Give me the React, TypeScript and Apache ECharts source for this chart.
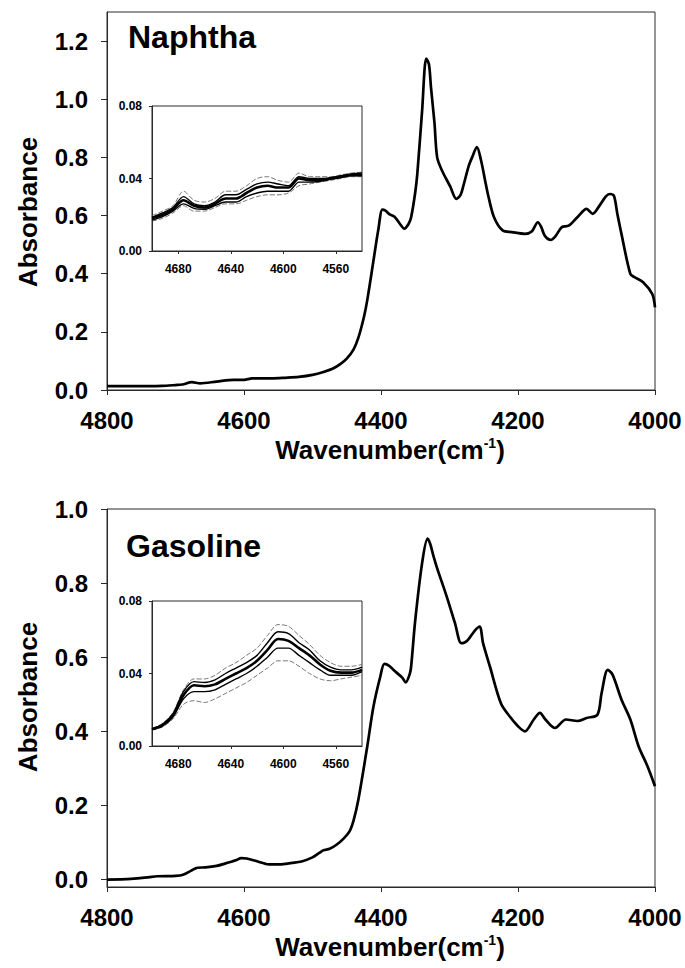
import React, { useEffect, useRef } from "react";
import * as echarts from "echarts";

// ---------- Naphtha main spectrum ----------
const naphthaWn = [4800, 4760, 4720, 4700, 4690, 4676, 4664, 4640, 4615, 4600, 4588, 4560, 4540, 4520, 4500, 4484, 4470, 4460, 4450, 4440, 4433, 4425, 4420, 4411, 4404, 4398, 4394, 4388, 4380, 4372, 4366, 4360, 4356, 4350, 4347, 4340, 4334, 4330, 4327, 4322, 4318, 4311, 4299, 4290, 4284, 4280, 4272, 4267, 4260, 4254, 4248, 4244, 4235, 4222, 4209, 4190, 4180, 4171, 4166, 4161, 4152, 4145, 4136, 4126, 4113, 4100, 4091, 4081, 4072, 4066, 4060, 4055, 4049, 4036, 4030, 4017, 4004, 4000];
const naphthaAbs = [0.013, 0.013, 0.014, 0.017, 0.019, 0.027, 0.023, 0.029, 0.035, 0.035, 0.040, 0.040, 0.042, 0.045, 0.052, 0.062, 0.074, 0.088, 0.108, 0.140, 0.180, 0.250, 0.310, 0.445, 0.550, 0.620, 0.618, 0.605, 0.595, 0.570, 0.555, 0.570, 0.594, 0.680, 0.743, 0.960, 1.140, 1.120, 1.040, 0.920, 0.800, 0.755, 0.700, 0.657, 0.670, 0.700, 0.770, 0.800, 0.835, 0.790, 0.720, 0.674, 0.594, 0.548, 0.543, 0.537, 0.545, 0.577, 0.560, 0.531, 0.516, 0.530, 0.560, 0.565, 0.595, 0.623, 0.606, 0.634, 0.665, 0.674, 0.668, 0.606, 0.537, 0.399, 0.388, 0.370, 0.330, 0.284];

// ---------- Gasoline main spectrum ----------
const gasolineWn = [4800, 4765, 4740, 4727, 4700, 4689, 4676, 4668, 4656, 4640, 4628, 4612, 4604, 4596, 4580, 4564, 4548, 4530, 4516, 4500, 4490, 4484, 4475, 4465, 4455, 4446, 4440, 4433, 4420, 4411, 4401, 4395, 4388, 4382, 4369, 4364, 4358, 4356, 4350, 4340, 4332, 4328, 4324, 4318, 4305, 4292, 4283, 4278, 4273, 4263, 4256, 4251, 4241, 4225, 4212, 4200, 4190, 4177, 4168, 4160, 4146, 4130, 4113, 4100, 4084, 4078, 4069, 4062, 4049, 4036, 4024, 4011, 4000];
const gasolineAbs = [0.000, 0.002, 0.006, 0.009, 0.010, 0.013, 0.025, 0.032, 0.033, 0.037, 0.043, 0.052, 0.058, 0.057, 0.049, 0.041, 0.041, 0.045, 0.049, 0.060, 0.072, 0.079, 0.083, 0.094, 0.110, 0.130, 0.160, 0.216, 0.360, 0.467, 0.548, 0.582, 0.577, 0.566, 0.545, 0.532, 0.555, 0.575, 0.700, 0.854, 0.920, 0.905, 0.877, 0.840, 0.769, 0.692, 0.638, 0.640, 0.647, 0.672, 0.683, 0.638, 0.575, 0.476, 0.440, 0.414, 0.400, 0.432, 0.450, 0.432, 0.409, 0.432, 0.428, 0.436, 0.445, 0.503, 0.566, 0.553, 0.486, 0.432, 0.360, 0.306, 0.252];

// ---------- Insets (4700–4540 cm-1) ----------
const insetWn = [4700, 4692, 4684, 4676, 4668, 4660, 4652, 4644, 4636, 4628, 4620, 4612, 4604, 4596, 4588, 4580, 4572, 4564, 4556, 4548, 4540];

const naphthaInsetUpper = [0.0195, 0.022, 0.025, 0.033, 0.028, 0.027, 0.029, 0.033, 0.033, 0.036, 0.040, 0.041, 0.039, 0.038, 0.043, 0.041, 0.041, 0.041, 0.042, 0.043, 0.0435];
const naphthaInsetUpperMid = [0.0185, 0.021, 0.024, 0.030, 0.026, 0.025, 0.027, 0.031, 0.031, 0.034, 0.037, 0.038, 0.037, 0.036, 0.041, 0.040, 0.040, 0.0405, 0.0415, 0.0425, 0.043];
const naphthaInsetMid = [0.018, 0.020, 0.023, 0.028, 0.025, 0.024, 0.026, 0.029, 0.029, 0.032, 0.035, 0.036, 0.035, 0.035, 0.040, 0.039, 0.039, 0.040, 0.041, 0.042, 0.042];
const naphthaInsetLowerMid = [0.017, 0.019, 0.022, 0.026, 0.0235, 0.023, 0.025, 0.027, 0.027, 0.030, 0.032, 0.033, 0.033, 0.033, 0.038, 0.038, 0.0385, 0.0395, 0.0405, 0.0415, 0.0415];
const naphthaInsetLower = [0.0165, 0.018, 0.021, 0.025, 0.022, 0.022, 0.024, 0.026, 0.026, 0.028, 0.030, 0.031, 0.031, 0.032, 0.036, 0.037, 0.038, 0.039, 0.040, 0.041, 0.041];

const gasolineInsetUpper = [0.0098, 0.0125, 0.0185, 0.031, 0.037, 0.037, 0.039, 0.043, 0.046, 0.050, 0.054, 0.061, 0.067, 0.066, 0.061, 0.056, 0.050, 0.046, 0.044, 0.044, 0.045];
const gasolineInsetUpperMid = [0.0095, 0.012, 0.0178, 0.030, 0.0355, 0.035, 0.0365, 0.040, 0.043, 0.046, 0.050, 0.057, 0.063, 0.062, 0.057, 0.053, 0.047, 0.0435, 0.042, 0.042, 0.0435];
const gasolineInsetMid = [0.0092, 0.0116, 0.017, 0.028, 0.0335, 0.033, 0.034, 0.037, 0.040, 0.043, 0.047, 0.053, 0.059, 0.058, 0.054, 0.050, 0.045, 0.0415, 0.0405, 0.0405, 0.042];
const gasolineInsetLowerMid = [0.009, 0.011, 0.016, 0.026, 0.030, 0.030, 0.031, 0.034, 0.037, 0.040, 0.044, 0.049, 0.054, 0.054, 0.050, 0.046, 0.042, 0.039, 0.039, 0.039, 0.041];
const gasolineInsetLower = [0.0088, 0.0105, 0.015, 0.023, 0.025, 0.024, 0.026, 0.029, 0.032, 0.035, 0.039, 0.043, 0.047, 0.047, 0.044, 0.040, 0.037, 0.036, 0.037, 0.038, 0.039];

// ---------- Tick labels ----------
const mainXTicks = [4800, 4600, 4400, 4200, 4000];
const naphthaYTicks = [0, 0.2, 0.4, 0.6, 0.8, 1.0, 1.2];
const gasolineYTicks = [0, 0.2, 0.4, 0.6, 0.8, 1.0];
const insetXTicks = [4680, 4640, 4600, 4560];
const insetYTicks = [0, 0.04, 0.08];

const FONT = "'Liberation Sans', Arial, Helvetica, sans-serif";
const AXIS_COLOR = "#2a2a2a";

const zip = (xs: number[], ys: number[]) => xs.map((x, i) => [x, ys[i]]);

function mainX(gridIndex: number) {
  return {
    type: "value",
    gridIndex,
    min: 4000,
    max: 4800,
    inverse: true,
    axisLine: { show: true, onZero: false, lineStyle: { color: AXIS_COLOR, width: 1 } },
    axisTick: { show: true, inside: false, length: 5, customValues: mainXTicks, lineStyle: { color: AXIS_COLOR } },
    axisLabel: {
      customValues: mainXTicks,
      margin: 18,
      color: "#000",
      fontFamily: FONT,
      fontWeight: "bold",
      fontSize: 24,
      lineHeight: 24,
      formatter: (v: number) => String(v),
    },
    splitLine: { show: false },
  };
}

function mainY(gridIndex: number, min: number, max: number, ticks: number[]) {
  return {
    type: "value",
    gridIndex,
    min,
    max,
    axisLine: { show: true, onZero: false, lineStyle: { color: AXIS_COLOR, width: 1 } },
    axisTick: { show: true, inside: false, length: 6, customValues: ticks, lineStyle: { color: AXIS_COLOR } },
    axisLabel: {
      customValues: ticks,
      margin: 19,
      color: "#000",
      fontFamily: FONT,
      fontWeight: "bold",
      fontSize: 24,
      formatter: (v: number) => v.toFixed(1),
    },
    splitLine: { show: false },
  };
}

function insetX(gridIndex: number) {
  return {
    type: "value",
    gridIndex,
    min: 4540,
    max: 4700,
    inverse: true,
    axisLine: { show: true, onZero: false, lineStyle: { color: AXIS_COLOR, width: 1 } },
    axisTick: { show: true, inside: false, length: 3, customValues: insetXTicks, lineStyle: { color: AXIS_COLOR } },
    axisLabel: {
      customValues: insetXTicks,
      margin: 12,
      color: "#000",
      fontFamily: FONT,
      fontWeight: "bold",
      fontSize: 12,
      formatter: (v: number) => String(v),
    },
    splitLine: { show: false },
  };
}

function insetY(gridIndex: number) {
  return {
    type: "value",
    gridIndex,
    min: 0,
    max: 0.08,
    axisLine: { show: true, onZero: false, lineStyle: { color: AXIS_COLOR, width: 1 } },
    axisTick: { show: true, inside: false, length: 3, customValues: insetYTicks, lineStyle: { color: AXIS_COLOR } },
    axisLabel: {
      customValues: insetYTicks,
      margin: 10,
      color: "#000",
      fontFamily: FONT,
      fontWeight: "bold",
      fontSize: 12,
      formatter: (v: number) => v.toFixed(2),
    },
    splitLine: { show: false },
  };
}

function line(idx: number, data: number[][], width: number, color = "#000", type: any = "solid") {
  return {
    type: "line",
    xAxisIndex: idx,
    yAxisIndex: idx,
    data,
    showSymbol: false,
    symbol: "none",
    smooth: 0.3,
    lineStyle: { color, width, type },
    z: 10,
  };
}

export default function App() {
  const ref = useRef<HTMLDivElement>(null);
  useEffect(() => {
    if (!ref.current) return;
    const chart = echarts.init(ref.current, undefined, { renderer: "svg" });
    const gridBase = { show: true, borderColor: AXIS_COLOR, borderWidth: 1, backgroundColor: "transparent", containLabel: false };
    const titleRich = { sup: { fontSize: 14, fontWeight: "bold", fontFamily: FONT, verticalAlign: "top", lineHeight: 28 } };
    const option = {
      animation: false,
      backgroundColor: "#fff",
      grid: [
        { ...gridBase, left: 107, top: 12, width: 548, height: 378 },
        { ...gridBase, left: 152, top: 106, width: 210, height: 145 },
        { ...gridBase, left: 107, top: 509, width: 548, height: 378 },
        { ...gridBase, left: 152, top: 601, width: 210, height: 145 },
      ],
      xAxis: [mainX(0), insetX(1), mainX(2), insetX(3)],
      yAxis: [
        mainY(0, 0, 1.3, naphthaYTicks),
        insetY(1),
        mainY(2, -0.02, 1.0, gasolineYTicks),
        insetY(3),
      ],
      series: [
        line(0, zip(naphthaWn, naphthaAbs), 2.7),
        line(1, zip(insetWn, naphthaInsetUpper), 0.8, "#555", [5, 2]),
        line(1, zip(insetWn, naphthaInsetLower), 0.8, "#555", [5, 2]),
        line(1, zip(insetWn, naphthaInsetUpperMid), 1.4),
        line(1, zip(insetWn, naphthaInsetLowerMid), 1.4),
        line(1, zip(insetWn, naphthaInsetMid), 2.6),
        line(2, zip(gasolineWn, gasolineAbs), 2.7),
        line(3, zip(insetWn, gasolineInsetUpper), 0.8, "#555", [5, 2]),
        line(3, zip(insetWn, gasolineInsetLower), 0.8, "#555", [5, 2]),
        line(3, zip(insetWn, gasolineInsetUpperMid), 1.4),
        line(3, zip(insetWn, gasolineInsetLowerMid), 1.4),
        line(3, zip(insetWn, gasolineInsetMid), 2.6),
      ],
      graphic: [
        { type: "text", left: 128, top: 21, style: { text: "Naphtha", font: `bold 32px ${FONT}`, fill: "#000" } },
        { type: "text", left: 126, top: 530, style: { text: "Gasoline", font: `bold 32px ${FONT}`, fill: "#000" } },
        {
          type: "text",
          x: 28,
          y: 212,
          rotation: Math.PI / 2,
          style: { text: "Absorbance", font: `bold 26px ${FONT}`, fill: "#000", align: "center", verticalAlign: "middle" },
        },
        {
          type: "text",
          x: 28,
          y: 697,
          rotation: Math.PI / 2,
          style: { text: "Absorbance", font: `bold 26px ${FONT}`, fill: "#000", align: "center", verticalAlign: "middle" },
        },
        {
          type: "text",
          x: 390,
          y: 450,
          style: {
            text: "Wavenumber(cm{sup|-1})",
            font: `bold 26px ${FONT}`,
            fill: "#000",
            align: "center",
            verticalAlign: "middle",
            rich: titleRich,
          },
        },
        {
          type: "text",
          x: 390,
          y: 947,
          style: {
            text: "Wavenumber(cm{sup|-1})",
            font: `bold 26px ${FONT}`,
            fill: "#000",
            align: "center",
            verticalAlign: "middle",
            rich: titleRich,
          },
        },
      ],
    };
    chart.setOption(option as any);
    return () => chart.dispose();
  }, []);
  return (
    <div
      ref={ref}
      style={{ position: "fixed", left: 0, top: 0, width: 685, height: 968, background: "#fff" }}
    />
  );
}
